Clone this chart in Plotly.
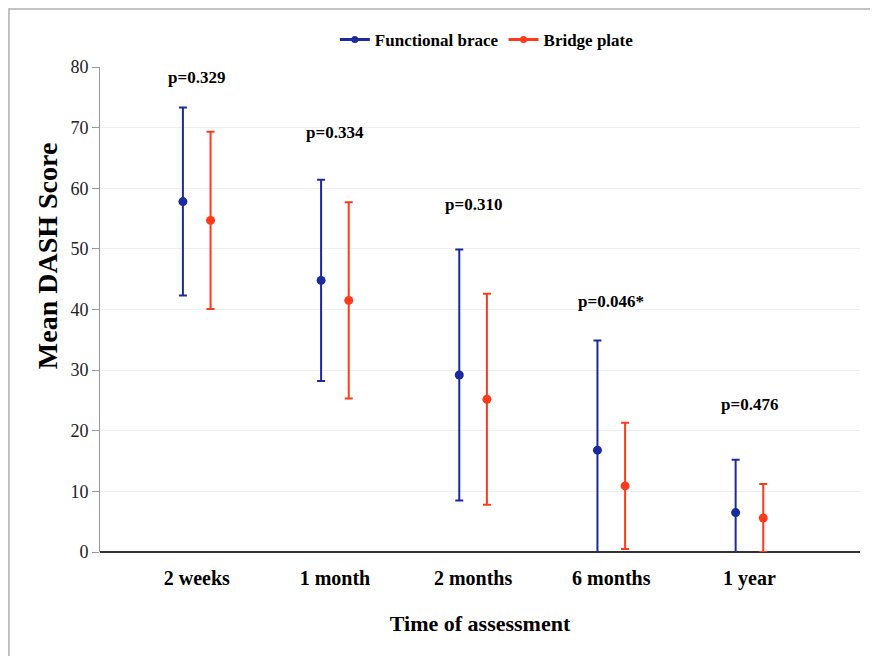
import plotly.graph_objects as go

categories = ["2 weeks", "1 month", "2 months", "6 months", "1 year"]
brace_mean = [57.8, 44.8, 29.2, 16.8, 6.5]
brace_sd = [15.5, 16.6, 20.7, 18.1, 8.7]
plate_mean = [54.7, 41.5, 25.2, 10.9, 5.6]
plate_sd = [14.6, 16.2, 17.4, 10.4, 5.6]
p_labels = ["p=0.329", "p=0.334", "p=0.310", "p=0.046*", "p=0.476"]
p_label_y = [78.2, 69.2, 57.3, 41.4, 24.3]

serif = "Liberation Serif, Times New Roman, serif"
blue = "#1b2a9c"
red = "#ff3a1c"
idx = list(range(len(categories)))

fig = go.Figure()
fig.add_trace(go.Scatter(
    x=[i - 0.1 for i in idx], y=brace_mean, mode="markers", name="Functional brace",
    showlegend=False, marker=dict(color=blue, size=9),
    error_y=dict(type="data", array=brace_sd, visible=True, color=blue, thickness=2, width=4),
))
fig.add_trace(go.Scatter(
    x=[i + 0.1 for i in idx], y=plate_mean, mode="markers", name="Bridge plate",
    showlegend=False, marker=dict(color=red, size=9),
    error_y=dict(type="data", array=plate_sd, visible=True, color=red, thickness=2, width=4),
))
# legend entries (line + marker symbol)
for name, col in [("<b>Functional brace</b>", blue), ("<b>Bridge plate</b>", red)]:
    fig.add_trace(go.Scatter(x=[None], y=[None], mode="lines+markers", name=name,
                             line=dict(color=col, width=3), marker=dict(color=col, size=7)))

for i, (lab, yy) in enumerate(zip(p_labels, p_label_y)):
    fig.add_annotation(x=i, y=yy, text="<b>%s</b>" % lab, showarrow=False,
                       font=dict(family=serif, size=17, color="black"))

# y-axis title (placed as annotation to match original position)
fig.add_annotation(xref="paper", yref="paper", x=-0.0697, y=0.61, textangle=-90,
                   text="<b>Mean DASH Score</b>", showarrow=False,
                   xanchor="center", yanchor="middle",
                   font=dict(family=serif, size=28, color="black"))

fig.add_shape(type="rect", xref="paper", yref="paper", x0=-0.1198, y0=-0.3, x1=1.2, y1=1.1196,
              line=dict(color="#b0b0b0", width=1.5), layer="below")

fig.update_layout(
    width=870, height=648,
    margin=dict(l=92, r=18, t=59, b=104),
    paper_bgcolor="white", plot_bgcolor="white",
    font=dict(family=serif, color="black"),
    showlegend=True,
    legend=dict(orientation="h", x=0.509, xanchor="center", y=1.056, yanchor="middle",
                font=dict(family=serif, size=17, color="black"), itemwidth=30,
                bgcolor="rgba(0,0,0,0)"),
    xaxis=dict(range=[-0.70, 4.80], tickvals=idx,
               ticktext=["<b>%s</b>" % c for c in categories],
               tickfont=dict(family=serif, size=20, color="black"), ticklabelstandoff=12,
               showgrid=False, zeroline=False, showline=False, ticks="",
               title=dict(text="<b>Time of assessment</b>", font=dict(family=serif, size=22), standoff=26)),
    yaxis=dict(range=[0, 80], dtick=10, showgrid=True, gridcolor="#efefef", gridwidth=1,
               zeroline=True, zerolinecolor="#333", zerolinewidth=1.5,
               showline=True, linecolor="#999", linewidth=1, ticks="outside", ticklen=7, tickcolor="#999",
               tickfont=dict(family=serif, size=18, color="#222")),
)

fig.write_html("out.html")
